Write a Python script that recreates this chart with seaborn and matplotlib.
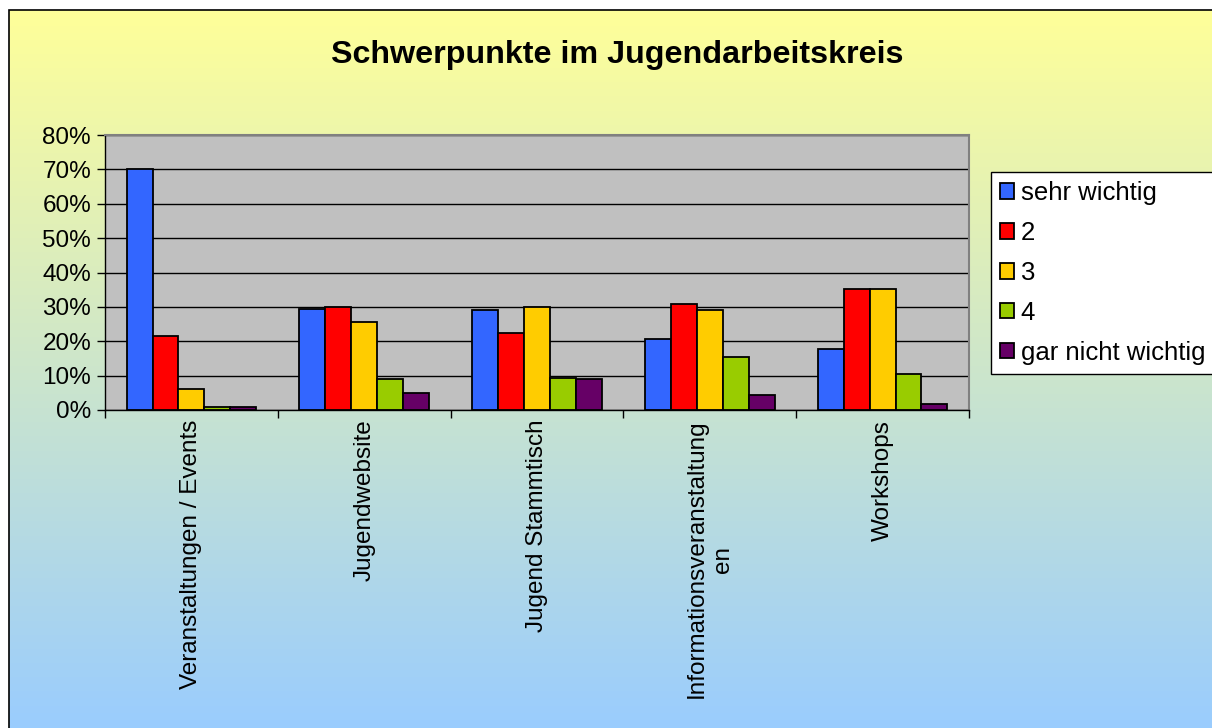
import numpy as np
import pandas as pd
import seaborn as sns
import matplotlib.pyplot as plt
from matplotlib.patches import Rectangle
from matplotlib.ticker import PercentFormatter

categories = ["Veranstaltungen / Events", "Jugendwebsite", "Jugend Stammtisch",
              "Informationsveranstaltung\nen", "Workshops"]
series = ["sehr wichtig", "2", "3", "4", "gar nicht wichtig"]
sehr_wichtig = [70.0, 29.5, 29.0, 20.6, 17.8]
stufe_2 = [21.6, 30.1, 22.3, 30.7, 35.2]
stufe_3 = [6.2, 25.6, 30.1, 29.0, 35.2]
stufe_4 = [1.0, 8.9, 9.4, 15.5, 10.5]
gar_nicht = [1.0, 4.9, 8.9, 4.4, 1.7]
colors = ["#3366FF", "#FF0000", "#FFCC00", "#99CC00", "#660066"]

rows = []
for s, vals in zip(series, [sehr_wichtig, stufe_2, stufe_3, stufe_4, gar_nicht]):
    for c, v in zip(categories, vals):
        rows.append({"Kategorie": c, "Wert": v, "Serie": s})
df = pd.DataFrame(rows)

sns.set_theme(style="white")
plt.rcParams['font.family'] = ['Liberation Sans', 'DejaVu Sans']
plt.rcParams['text.color'] = 'black'
plt.rcParams['xtick.color'] = 'black'
plt.rcParams['ytick.color'] = 'black'

fig = plt.figure(figsize=(12.12, 7.28), dpi=100)
fig.patch.set_facecolor("white")

# gradient background with frame
bg = fig.add_axes([0, 0, 1, 1], zorder=-10)
top = np.array([255, 255, 153]) / 255
bot = np.array([153, 204, 255]) / 255
t = np.linspace(0, 1, 256)[:, None]
grad = (top[None, :] * (1 - t) + bot[None, :] * t)[:, None, :]
x0, y0 = 9 / 1212, 1 - 10 / 728
bg.imshow(grad, extent=[x0, 1.01, -0.01, y0], aspect="auto", origin="upper")
bg.add_patch(Rectangle((x0, -0.05), 1.1 - x0, y0 + 0.05, fill=False,
                       edgecolor="black", lw=1.2))
bg.set_xlim(0, 1)
bg.set_ylim(0, 1)
bg.axis("off")

ax = fig.add_axes([105 / 1212, 1 - 410 / 728, 864 / 1212, 275 / 728])
ax.set_facecolor("#C0C0C0")
sns.barplot(data=df, x="Kategorie", y="Wert", hue="Serie", hue_order=series,
            palette=colors, width=0.75, edgecolor="black", linewidth=1.3,
            saturation=1, ax=ax, legend=True)

ax.set_xlim(-0.5, 4.5)
ax.set_ylim(0, 80)
ax.set_yticks(np.arange(0, 81, 10))
ax.yaxis.set_major_formatter(PercentFormatter(decimals=0))
ax.grid(axis="y", color="black", lw=1)
ax.set_axisbelow(True)
ax.set_xlabel("")
ax.set_ylabel("")

for sp in ["left", "bottom"]:
    ax.spines[sp].set_color("black")
    ax.spines[sp].set_linewidth(1)
for sp in ["top", "right"]:
    ax.spines[sp].set_color("#808080")
    ax.spines[sp].set_linewidth(1.5)

ax.tick_params(axis="y", left=True, length=6, width=1, color="black",
               labelsize=17.5, pad=4, labelcolor="black")
ax.tick_params(axis="x", which="major", length=0, pad=7, labelcolor="black")
ax.set_xticks(np.arange(-0.5, 5, 1), minor=True)
ax.tick_params(axis="x", which="minor", bottom=True, length=6, width=1, color="black")
ax.set_xticks(range(len(categories)))
ax.set_xticklabels(categories, rotation=90, fontsize=17.5, va="top", ha="center",
                   multialignment="center")

ax.get_legend().remove()
handles, labels = ax.get_legend_handles_labels()
leg = fig.legend(handles, labels, loc="upper left",
                 bbox_to_anchor=(991 / 1212, 1 - 172 / 728), fontsize=18.5,
                 frameon=True, fancybox=False, framealpha=1, edgecolor="black",
                 facecolor="white", handlelength=0.55, handleheight=0.55,
                 handletextpad=0.25, labelspacing=0.62, borderpad=0.35,
                 borderaxespad=0)
leg.get_frame().set_linewidth(1)

fig.text(617 / 1212, 1 - 55 / 728, "Schwerpunkte im Jugendarbeitskreis",
         ha="center", va="center", fontsize=23.2, fontweight="bold")

fig.savefig("out.png", dpi=100)
